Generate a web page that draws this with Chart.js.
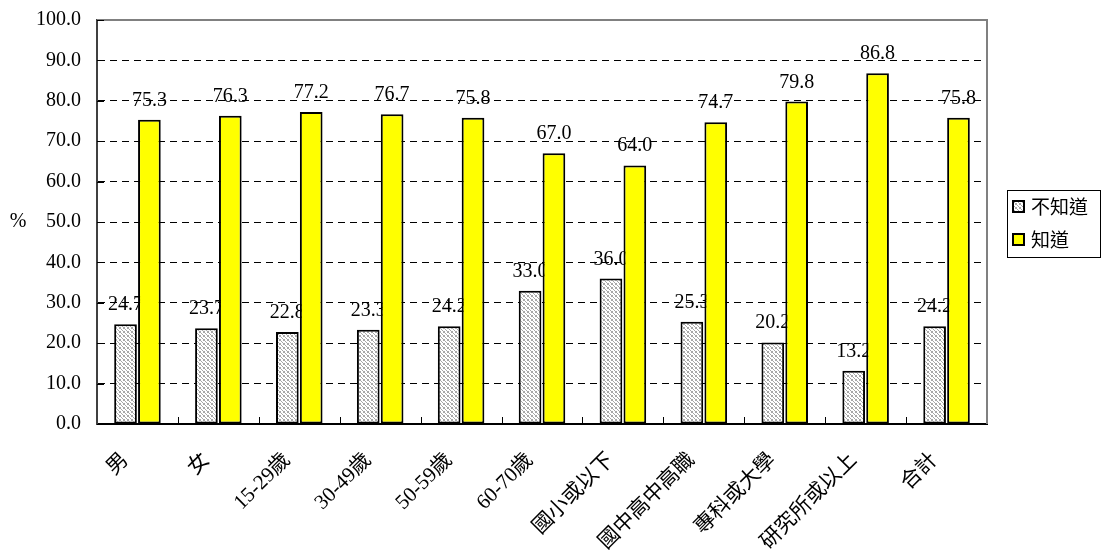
<!DOCTYPE html>
<html>
<head>
<meta charset="utf-8">
<script src="https://cdn.jsdelivr.net/npm/chart.js@4/dist/chart.umd.min.js"></script>
<style>
  html, body { margin: 0; padding: 0; background: #fff; }
  canvas { display: block; }
</style>
</head>
<body>
<canvas id="chart" width="1106" height="550"></canvas>
<script>
// data
const categories = ['男', '女', '15-29歲', '30-49歲', '50-59歲', '60-70歲', '國小或以下', '國中高中高職', '專科或大學', '研究所或以上', '合計'];
const notKnow = [24.7, 23.7, 22.8, 23.3, 24.2, 33.0, 36.0, 25.3, 20.2, 13.2, 24.2];
const know = [75.3, 76.3, 77.2, 76.7, 75.8, 67.0, 64.0, 74.7, 79.8, 86.8, 75.8];
const seriesNames = ['不知道', '知道'];
const yTicks = [0, 10, 20, 30, 40, 50, 60, 70, 80, 90, 100];

const SERIF = '"Liberation Serif", "Times New Roman", "Noto Sans CJK TC", serif';
const CJK = '"Noto Sans CJK TC", sans-serif';

// crosshatch fill like the original
function makePattern() {
    const c = document.createElement('canvas');
    c.width = 4; c.height = 4;
    const g = c.getContext('2d');
    g.fillStyle = '#ffffff';
    g.fillRect(0, 0, 4, 4);
    g.fillStyle = '#a8a8a8';
    [[0, 0], [1, 1], [2, 2], [3, 3], [3, 0], [0, 3]].forEach(p => g.fillRect(p[0], p[1], 1, 1));
    return g.createPattern(c, 'repeat');
}

const ctx = document.getElementById('chart').getContext('2d');
const hatch = makePattern();

// value labels, drawn under the bars
const valueLabels = {
    id: 'valueLabels',
    beforeDatasetsDraw(chart) {
        const c = chart.ctx;
        c.save();
        c.font = '20px ' + SERIF;
        c.fillStyle = '#000';
        c.textAlign = 'center';
        c.textBaseline = 'alphabetic';
        chart.data.datasets.forEach((ds, di) => {
            chart.getDatasetMeta(di).data.forEach((bar, i) => {
                c.fillText(ds.data[i].toFixed(1), bar.x, bar.y - 14);
            });
        });
        c.restore();
    }
};

// frame, inner ticks, % label, legend box
const extras = {
    id: 'extras',
    afterDraw(chart) {
        const c = chart.ctx;
        const a = chart.chartArea;
        const x = chart.scales.x;
        const y = chart.scales.y;
        c.save();

        // gray top/right frame
        c.strokeStyle = '#808080';
        c.lineWidth = 2;
        c.beginPath();
        c.moveTo(a.left, a.top);
        c.lineTo(a.right, a.top);
        c.lineTo(a.right, a.bottom);
        c.stroke();

        // inward tick marks
        c.strokeStyle = '#000';
        c.lineWidth = 1;
        c.beginPath();
        yTicks.forEach(v => {
            const py = Math.round(y.getPixelForValue(v)) + 0.5;
            c.moveTo(a.left, py);
            c.lineTo(a.left + 7, py);
        });
        for (let i = 1; i < categories.length; i++) {
            const px = Math.round((x.getPixelForValue(i - 1) + x.getPixelForValue(i)) / 2) + 0.5;
            c.moveTo(px, a.bottom);
            c.lineTo(px, a.bottom - 7);
        }
        c.stroke();

        // axis title
        c.fillStyle = '#000';
        c.font = '20px ' + SERIF;
        c.textAlign = 'center';
        c.textBaseline = 'middle';
        c.fillText('%', 18, (a.top + a.bottom) / 2);

        // legend
        const lx = 1007, ly = 190, lw = 93, lh = 67;
        c.strokeStyle = '#000';
        c.lineWidth = 1;
        c.strokeRect(lx + 0.5, ly + 0.5, lw, lh);
        const fills = [hatch, '#ffff00'];
        c.font = '19px ' + CJK;
        c.textAlign = 'left';
        seriesNames.forEach((name, i) => {
            const ry = ly + 17 + i * 33;
            c.fillStyle = fills[i];
            c.fillRect(lx + 6, ry - 6, 11, 11);
            c.lineWidth = 2;
            c.strokeRect(lx + 6, ry - 6, 11, 11);
            c.fillStyle = '#000';
            c.fillText(name, lx + 24, ry);
        });
        c.restore();
    }
};

new Chart(ctx, {
    type: 'bar',
    data: {
        labels: categories,
        datasets: [{
            label: seriesNames[0],
            data: notKnow,
            backgroundColor: hatch,
            borderColor: '#000',
            borderWidth: 2,
            borderSkipped: false,
            categoryPercentage: 0.59,
            barPercentage: 0.95
        }, {
            label: seriesNames[1],
            data: know,
            backgroundColor: '#ffff00',
            borderColor: '#000',
            borderWidth: 2,
            borderSkipped: false,
            categoryPercentage: 0.59,
            barPercentage: 0.95
        }]
    },
    options: {
        responsive: false,
        animation: false,
        devicePixelRatio: 1,
        layout: { padding: { left: 0, right: 119, top: 20, bottom: 0 } },
        plugins: {
            legend: { display: false },
            tooltip: { enabled: false }
        },
        scales: {
            x: {
                grid: { display: false },
                border: { display: true, color: '#000', width: 2 },
                ticks: {
                    color: '#000',
                    font: { family: SERIF, size: 21 },
                    maxRotation: 45,
                    minRotation: 45,
                    autoSkip: false,
                    padding: 16,
                    labelOffset: -12
                },
                afterFit(scale) { scale.height = 126; }
            },
            y: {
                min: 0,
                max: 100,
                afterBuildTicks(scale) { scale.ticks = yTicks.map(v => ({ value: v })); },
                grid: { color: '#000', lineWidth: 1, drawTicks: false },
                border: { display: true, color: '#404040', width: 2, dash: [7, 5] },
                ticks: {
                    color: '#000',
                    font: { family: SERIF, size: 20 },
                    padding: 16,
                    callback: v => Number(v).toFixed(1)
                },
                afterFit(scale) {
                    scale.width = 97;
                    scale.paddingTop = 0;
                    scale.paddingBottom = 0;
                }
            }
        }
    },
    plugins: [valueLabels, extras]
});
</script>
</body>
</html>
